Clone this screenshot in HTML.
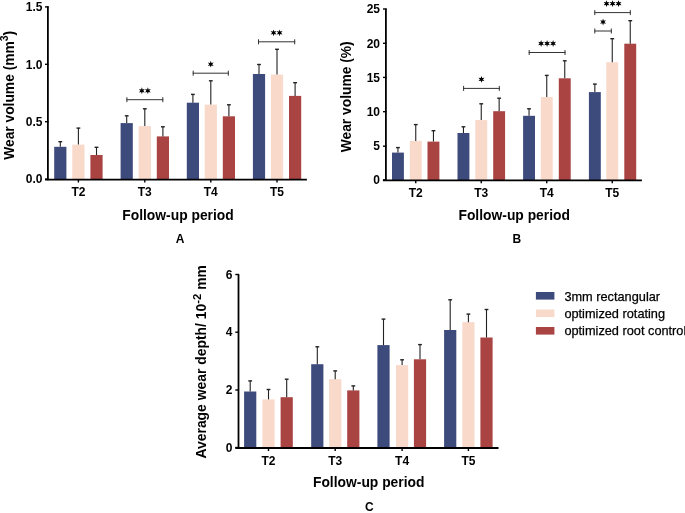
<!DOCTYPE html>
<html><head><meta charset="utf-8"><style>
html,body{margin:0;padding:0;background:#fff;}
body{width:685px;height:513px;overflow:hidden;}
svg{display:block;font-family:"Liberation Sans",sans-serif;will-change:transform;}
</style></head><body>
<svg width="685" height="513" viewBox="0 0 685 513">
<rect width="685" height="513" fill="#fff"/>
<rect x="54.2" y="146.8" width="12.2" height="32.3" fill="#3d4a7c"/>
<line x1="60.3" y1="141.7" x2="60.3" y2="146.8" stroke="#222" stroke-width="1.1"/>
<line x1="58.4" y1="141.7" x2="62.2" y2="141.7" stroke="#222" stroke-width="1.4"/>
<rect x="72.3" y="144.6" width="12.2" height="34.5" fill="#f8d9ca"/>
<line x1="78.4" y1="128.1" x2="78.4" y2="144.6" stroke="#222" stroke-width="1.1"/>
<line x1="76.5" y1="128.1" x2="80.3" y2="128.1" stroke="#222" stroke-width="1.4"/>
<rect x="90.4" y="155.0" width="12.2" height="24.1" fill="#a94442"/>
<line x1="96.5" y1="147.3" x2="96.5" y2="155.0" stroke="#222" stroke-width="1.1"/>
<line x1="94.6" y1="147.3" x2="98.4" y2="147.3" stroke="#222" stroke-width="1.4"/>
<rect x="120.6" y="123.1" width="12.2" height="56.0" fill="#3d4a7c"/>
<line x1="126.7" y1="115.8" x2="126.7" y2="123.1" stroke="#222" stroke-width="1.1"/>
<line x1="124.8" y1="115.8" x2="128.6" y2="115.8" stroke="#222" stroke-width="1.4"/>
<rect x="138.7" y="126.1" width="12.2" height="53.0" fill="#f8d9ca"/>
<line x1="144.8" y1="108.8" x2="144.8" y2="126.1" stroke="#222" stroke-width="1.1"/>
<line x1="142.9" y1="108.8" x2="146.7" y2="108.8" stroke="#222" stroke-width="1.4"/>
<rect x="156.8" y="136.4" width="12.2" height="42.7" fill="#a94442"/>
<line x1="162.9" y1="126.8" x2="162.9" y2="136.4" stroke="#222" stroke-width="1.1"/>
<line x1="161.0" y1="126.8" x2="164.8" y2="126.8" stroke="#222" stroke-width="1.4"/>
<rect x="186.8" y="102.7" width="12.2" height="76.4" fill="#3d4a7c"/>
<line x1="192.9" y1="94.4" x2="192.9" y2="102.7" stroke="#222" stroke-width="1.1"/>
<line x1="191.0" y1="94.4" x2="194.8" y2="94.4" stroke="#222" stroke-width="1.4"/>
<rect x="204.7" y="104.6" width="12.2" height="74.5" fill="#f8d9ca"/>
<line x1="210.8" y1="80.8" x2="210.8" y2="104.6" stroke="#222" stroke-width="1.1"/>
<line x1="208.9" y1="80.8" x2="212.7" y2="80.8" stroke="#222" stroke-width="1.4"/>
<rect x="222.8" y="116.3" width="12.2" height="62.8" fill="#a94442"/>
<line x1="228.9" y1="104.8" x2="228.9" y2="116.3" stroke="#222" stroke-width="1.1"/>
<line x1="227.0" y1="104.8" x2="230.8" y2="104.8" stroke="#222" stroke-width="1.4"/>
<rect x="252.9" y="74.0" width="12.2" height="105.1" fill="#3d4a7c"/>
<line x1="259.0" y1="64.5" x2="259.0" y2="74.0" stroke="#222" stroke-width="1.1"/>
<line x1="257.1" y1="64.5" x2="260.9" y2="64.5" stroke="#222" stroke-width="1.4"/>
<rect x="270.9" y="74.6" width="12.2" height="104.5" fill="#f8d9ca"/>
<line x1="277.0" y1="49.3" x2="277.0" y2="74.6" stroke="#222" stroke-width="1.1"/>
<line x1="275.1" y1="49.3" x2="278.9" y2="49.3" stroke="#222" stroke-width="1.4"/>
<rect x="289.0" y="95.9" width="12.2" height="83.2" fill="#a94442"/>
<line x1="295.1" y1="82.7" x2="295.1" y2="95.9" stroke="#222" stroke-width="1.1"/>
<line x1="293.2" y1="82.7" x2="297.0" y2="82.7" stroke="#222" stroke-width="1.4"/>
<line x1="47.9" y1="6.2" x2="47.9" y2="180.3" stroke="#000" stroke-width="1.8"/>
<line x1="45.0" y1="179.6" x2="306.9" y2="179.6" stroke="#000" stroke-width="1.8"/>
<line x1="45.0" y1="6.9" x2="48.5" y2="6.9" stroke="#000" stroke-width="1.4"/>
<text x="42.5" y="11.1" font-size="12" font-weight="700" text-anchor="end" >1.5</text>
<line x1="45.0" y1="64.3" x2="48.5" y2="64.3" stroke="#000" stroke-width="1.4"/>
<text x="42.5" y="68.5" font-size="12" font-weight="700" text-anchor="end" >1.0</text>
<line x1="45.0" y1="121.7" x2="48.5" y2="121.7" stroke="#000" stroke-width="1.4"/>
<text x="42.5" y="125.9" font-size="12" font-weight="700" text-anchor="end" >0.5</text>
<line x1="45.0" y1="179.1" x2="48.5" y2="179.1" stroke="#000" stroke-width="1.4"/>
<text x="42.5" y="183.3" font-size="12" font-weight="700" text-anchor="end" >0.0</text>
<line x1="78.4" y1="179.6" x2="78.4" y2="182.5" stroke="#000" stroke-width="1.4"/>
<text x="78.4" y="196" font-size="12" font-weight="700" text-anchor="middle" >T2</text>
<line x1="144.8" y1="179.6" x2="144.8" y2="182.5" stroke="#000" stroke-width="1.4"/>
<text x="144.8" y="196" font-size="12" font-weight="700" text-anchor="middle" >T3</text>
<line x1="210.8" y1="179.6" x2="210.8" y2="182.5" stroke="#000" stroke-width="1.4"/>
<text x="210.8" y="196" font-size="12" font-weight="700" text-anchor="middle" >T4</text>
<line x1="277.0" y1="179.6" x2="277.0" y2="182.5" stroke="#000" stroke-width="1.4"/>
<text x="277.0" y="196" font-size="12" font-weight="700" text-anchor="middle" >T5</text>
<text x="178" y="220.3" font-size="13.85" font-weight="700" text-anchor="middle" >Follow-up period</text>
<text x="180" y="243.2" font-size="12" font-weight="700" text-anchor="middle" >A</text>
<text transform="translate(13.6,95.3) rotate(-90)" font-size="13.8" font-weight="700" text-anchor="middle">Wear volume (mm<tspan dy="-5.2" font-size="10.5">3</tspan><tspan dy="5.2">)</tspan></text>
<line x1="126.4" y1="99.7" x2="163.3" y2="99.7" stroke="#333" stroke-width="1"/>
<line x1="126.9" y1="97.2" x2="126.9" y2="102.2" stroke="#333" stroke-width="1"/>
<line x1="162.8" y1="97.2" x2="162.8" y2="102.2" stroke="#333" stroke-width="1"/>
<polygon points="141.85,87.30 142.60,89.40 144.79,89.00 143.35,90.70 144.79,92.40 142.60,92.00 141.85,94.10 141.10,92.00 138.91,92.40 140.35,90.70 138.91,89.00 141.10,89.40" fill="#000"/>
<polygon points="147.85,87.30 148.60,89.40 150.79,89.00 149.35,90.70 150.79,92.40 148.60,92.00 147.85,94.10 147.10,92.00 144.91,92.40 146.35,90.70 144.91,89.00 147.10,89.40" fill="#000"/>
<line x1="192.7" y1="73.2" x2="228.8" y2="73.2" stroke="#333" stroke-width="1"/>
<line x1="193.2" y1="70.7" x2="193.2" y2="75.7" stroke="#333" stroke-width="1"/>
<line x1="228.3" y1="70.7" x2="228.3" y2="75.7" stroke="#333" stroke-width="1"/>
<polygon points="210.75,60.80 211.50,62.90 213.69,62.50 212.25,64.20 213.69,65.90 211.50,65.50 210.75,67.60 210.00,65.50 207.81,65.90 209.25,64.20 207.81,62.50 210.00,62.90" fill="#000"/>
<line x1="258.0" y1="41.8" x2="295.2" y2="41.8" stroke="#333" stroke-width="1"/>
<line x1="258.5" y1="39.3" x2="258.5" y2="44.3" stroke="#333" stroke-width="1"/>
<line x1="294.7" y1="39.3" x2="294.7" y2="44.3" stroke="#333" stroke-width="1"/>
<polygon points="273.60,29.40 274.35,31.50 276.54,31.10 275.10,32.80 276.54,34.50 274.35,34.10 273.60,36.20 272.85,34.10 270.66,34.50 272.10,32.80 270.66,31.10 272.85,31.50" fill="#000"/>
<polygon points="279.60,29.40 280.35,31.50 282.54,31.10 281.10,32.80 282.54,34.50 280.35,34.10 279.60,36.20 278.85,34.10 276.66,34.50 278.10,32.80 276.66,31.10 278.85,31.50" fill="#000"/>
<rect x="392.0" y="152.6" width="11.9" height="27.7" fill="#3d4a7c"/>
<line x1="397.95" y1="147.6" x2="397.95" y2="152.6" stroke="#222" stroke-width="1.1"/>
<line x1="396.05" y1="147.6" x2="399.85" y2="147.6" stroke="#222" stroke-width="1.4"/>
<rect x="409.8" y="140.9" width="11.9" height="39.4" fill="#f8d9ca"/>
<line x1="415.75" y1="124.6" x2="415.75" y2="140.9" stroke="#222" stroke-width="1.1"/>
<line x1="413.85" y1="124.6" x2="417.65" y2="124.6" stroke="#222" stroke-width="1.4"/>
<rect x="427.5" y="141.6" width="11.9" height="38.7" fill="#a94442"/>
<line x1="433.45" y1="130.7" x2="433.45" y2="141.6" stroke="#222" stroke-width="1.1"/>
<line x1="431.55" y1="130.7" x2="435.35" y2="130.7" stroke="#222" stroke-width="1.4"/>
<rect x="457.5" y="133.0" width="11.9" height="47.3" fill="#3d4a7c"/>
<line x1="463.45" y1="126.8" x2="463.45" y2="133.0" stroke="#222" stroke-width="1.1"/>
<line x1="461.55" y1="126.8" x2="465.35" y2="126.8" stroke="#222" stroke-width="1.4"/>
<rect x="475.3" y="120.1" width="11.9" height="60.2" fill="#f8d9ca"/>
<line x1="481.25" y1="103.8" x2="481.25" y2="120.1" stroke="#222" stroke-width="1.1"/>
<line x1="479.35" y1="103.8" x2="483.15" y2="103.8" stroke="#222" stroke-width="1.4"/>
<rect x="493.2" y="111.2" width="11.9" height="69.1" fill="#a94442"/>
<line x1="499.15" y1="98.2" x2="499.15" y2="111.2" stroke="#222" stroke-width="1.1"/>
<line x1="497.25" y1="98.2" x2="501.05" y2="98.2" stroke="#222" stroke-width="1.4"/>
<rect x="523.1" y="115.8" width="11.9" height="64.5" fill="#3d4a7c"/>
<line x1="529.05" y1="108.8" x2="529.05" y2="115.8" stroke="#222" stroke-width="1.1"/>
<line x1="527.15" y1="108.8" x2="530.95" y2="108.8" stroke="#222" stroke-width="1.4"/>
<rect x="540.8" y="97.1" width="11.9" height="83.2" fill="#f8d9ca"/>
<line x1="546.75" y1="75.4" x2="546.75" y2="97.1" stroke="#222" stroke-width="1.1"/>
<line x1="544.85" y1="75.4" x2="548.65" y2="75.4" stroke="#222" stroke-width="1.4"/>
<rect x="558.8" y="78.3" width="11.9" height="102.0" fill="#a94442"/>
<line x1="564.75" y1="60.8" x2="564.75" y2="78.3" stroke="#222" stroke-width="1.1"/>
<line x1="562.85" y1="60.8" x2="566.65" y2="60.8" stroke="#222" stroke-width="1.4"/>
<rect x="588.9" y="92.1" width="11.9" height="88.2" fill="#3d4a7c"/>
<line x1="594.85" y1="84.1" x2="594.85" y2="92.1" stroke="#222" stroke-width="1.1"/>
<line x1="592.95" y1="84.1" x2="596.75" y2="84.1" stroke="#222" stroke-width="1.4"/>
<rect x="606.3" y="62.3" width="11.9" height="118.0" fill="#f8d9ca"/>
<line x1="612.25" y1="38.7" x2="612.25" y2="62.3" stroke="#222" stroke-width="1.1"/>
<line x1="610.35" y1="38.7" x2="614.15" y2="38.7" stroke="#222" stroke-width="1.4"/>
<rect x="624.3" y="43.7" width="11.9" height="136.6" fill="#a94442"/>
<line x1="630.25" y1="20.7" x2="630.25" y2="43.7" stroke="#222" stroke-width="1.1"/>
<line x1="628.35" y1="20.7" x2="632.15" y2="20.7" stroke="#222" stroke-width="1.4"/>
<line x1="385.9" y1="8.4" x2="385.9" y2="181.1" stroke="#000" stroke-width="1.8"/>
<line x1="382.9" y1="180.3" x2="641.9" y2="180.3" stroke="#000" stroke-width="1.8"/>
<line x1="383.0" y1="9.0" x2="386.5" y2="9.0" stroke="#000" stroke-width="1.4"/>
<text x="380" y="13.2" font-size="12" font-weight="700" text-anchor="end" >25</text>
<line x1="383.0" y1="43.3" x2="386.5" y2="43.3" stroke="#000" stroke-width="1.4"/>
<text x="380" y="47.5" font-size="12" font-weight="700" text-anchor="end" >20</text>
<line x1="383.0" y1="77.4" x2="386.5" y2="77.4" stroke="#000" stroke-width="1.4"/>
<text x="380" y="81.6" font-size="12" font-weight="700" text-anchor="end" >15</text>
<line x1="383.0" y1="111.7" x2="386.5" y2="111.7" stroke="#000" stroke-width="1.4"/>
<text x="380" y="115.9" font-size="12" font-weight="700" text-anchor="end" >10</text>
<line x1="383.0" y1="146.2" x2="386.5" y2="146.2" stroke="#000" stroke-width="1.4"/>
<text x="380" y="150.4" font-size="12" font-weight="700" text-anchor="end" >5</text>
<line x1="383.0" y1="179.9" x2="386.5" y2="179.9" stroke="#000" stroke-width="1.4"/>
<text x="380" y="184.1" font-size="12" font-weight="700" text-anchor="end" >0</text>
<line x1="415.75" y1="180.3" x2="415.75" y2="183.2" stroke="#000" stroke-width="1.4"/>
<text x="415.75" y="196.8" font-size="12" font-weight="700" text-anchor="middle" >T2</text>
<line x1="481.25" y1="180.3" x2="481.25" y2="183.2" stroke="#000" stroke-width="1.4"/>
<text x="481.25" y="196.8" font-size="12" font-weight="700" text-anchor="middle" >T3</text>
<line x1="546.75" y1="180.3" x2="546.75" y2="183.2" stroke="#000" stroke-width="1.4"/>
<text x="546.75" y="196.8" font-size="12" font-weight="700" text-anchor="middle" >T4</text>
<line x1="612.25" y1="180.3" x2="612.25" y2="183.2" stroke="#000" stroke-width="1.4"/>
<text x="612.25" y="196.8" font-size="12" font-weight="700" text-anchor="middle" >T5</text>
<text x="514.2" y="220.3" font-size="13.85" font-weight="700" text-anchor="middle" >Follow-up period</text>
<text x="516.8" y="242.6" font-size="12" font-weight="700" text-anchor="middle" >B</text>
<text transform="translate(350.6,96.8) rotate(-90)" font-size="13.8" font-weight="700" text-anchor="middle">Wear volume (%)</text>
<line x1="463.1" y1="88.4" x2="499.8" y2="88.4" stroke="#333" stroke-width="1"/>
<line x1="463.6" y1="85.9" x2="463.6" y2="90.9" stroke="#333" stroke-width="1"/>
<line x1="499.3" y1="85.9" x2="499.3" y2="90.9" stroke="#333" stroke-width="1"/>
<polygon points="481.45,76.00 482.20,78.10 484.39,77.70 482.95,79.40 484.39,81.10 482.20,80.70 481.45,82.80 480.70,80.70 478.51,81.10 479.95,79.40 478.51,77.70 480.70,78.10" fill="#000"/>
<line x1="528.7" y1="52.5" x2="565.5" y2="52.5" stroke="#333" stroke-width="1"/>
<line x1="529.2" y1="50.0" x2="529.2" y2="55.0" stroke="#333" stroke-width="1"/>
<line x1="565.0" y1="50.0" x2="565.0" y2="55.0" stroke="#333" stroke-width="1"/>
<polygon points="541.10,40.10 541.85,42.20 544.04,41.80 542.60,43.50 544.04,45.20 541.85,44.80 541.10,46.90 540.35,44.80 538.16,45.20 539.60,43.50 538.16,41.80 540.35,42.20" fill="#000"/>
<polygon points="547.10,40.10 547.85,42.20 550.04,41.80 548.60,43.50 550.04,45.20 547.85,44.80 547.10,46.90 546.35,44.80 544.16,45.20 545.60,43.50 544.16,41.80 546.35,42.20" fill="#000"/>
<polygon points="553.10,40.10 553.85,42.20 556.04,41.80 554.60,43.50 556.04,45.20 553.85,44.80 553.10,46.90 552.35,44.80 550.16,45.20 551.60,43.50 550.16,41.80 552.35,42.20" fill="#000"/>
<line x1="594.3" y1="12.6" x2="630.8" y2="12.6" stroke="#333" stroke-width="1"/>
<line x1="594.8" y1="10.1" x2="594.8" y2="15.1" stroke="#333" stroke-width="1"/>
<line x1="630.3" y1="10.1" x2="630.3" y2="15.1" stroke="#333" stroke-width="1"/>
<polygon points="606.55,0.20 607.30,2.30 609.49,1.90 608.05,3.60 609.49,5.30 607.30,4.90 606.55,7.00 605.80,4.90 603.61,5.30 605.05,3.60 603.61,1.90 605.80,2.30" fill="#000"/>
<polygon points="612.55,0.20 613.30,2.30 615.49,1.90 614.05,3.60 615.49,5.30 613.30,4.90 612.55,7.00 611.80,4.90 609.61,5.30 611.05,3.60 609.61,1.90 611.80,2.30" fill="#000"/>
<polygon points="618.55,0.20 619.30,2.30 621.49,1.90 620.05,3.60 621.49,5.30 619.30,4.90 618.55,7.00 617.80,4.90 615.61,5.30 617.05,3.60 615.61,1.90 617.80,2.30" fill="#000"/>
<line x1="594.3" y1="31.0" x2="611.8" y2="31.0" stroke="#333" stroke-width="1"/>
<line x1="594.8" y1="28.5" x2="594.8" y2="33.5" stroke="#333" stroke-width="1"/>
<line x1="611.3" y1="28.5" x2="611.3" y2="33.5" stroke="#333" stroke-width="1"/>
<polygon points="603.05,18.60 603.80,20.70 605.99,20.30 604.55,22.00 605.99,23.70 603.80,23.30 603.05,25.40 602.30,23.30 600.11,23.70 601.55,22.00 600.11,20.30 602.30,20.70" fill="#000"/>
<rect x="244.1" y="391.5" width="12.2" height="56.1" fill="#3d4a7c"/>
<line x1="250.2" y1="380.9" x2="250.2" y2="391.5" stroke="#222" stroke-width="1.1"/>
<line x1="248.3" y1="380.9" x2="252.1" y2="380.9" stroke="#222" stroke-width="1.4"/>
<rect x="262.4" y="399.4" width="12.2" height="48.2" fill="#f8d9ca"/>
<line x1="268.5" y1="389.5" x2="268.5" y2="399.4" stroke="#222" stroke-width="1.1"/>
<line x1="266.6" y1="389.5" x2="270.4" y2="389.5" stroke="#222" stroke-width="1.4"/>
<rect x="280.6" y="397.2" width="12.2" height="50.4" fill="#a94442"/>
<line x1="286.7" y1="379.2" x2="286.7" y2="397.2" stroke="#222" stroke-width="1.1"/>
<line x1="284.8" y1="379.2" x2="288.6" y2="379.2" stroke="#222" stroke-width="1.4"/>
<rect x="311.2" y="364.2" width="12.2" height="83.4" fill="#3d4a7c"/>
<line x1="317.3" y1="346.8" x2="317.3" y2="364.2" stroke="#222" stroke-width="1.1"/>
<line x1="315.4" y1="346.8" x2="319.2" y2="346.8" stroke="#222" stroke-width="1.4"/>
<rect x="329.1" y="379.2" width="12.2" height="68.4" fill="#f8d9ca"/>
<line x1="335.2" y1="370.9" x2="335.2" y2="379.2" stroke="#222" stroke-width="1.1"/>
<line x1="333.3" y1="370.9" x2="337.1" y2="370.9" stroke="#222" stroke-width="1.4"/>
<rect x="347.2" y="390.4" width="12.2" height="57.2" fill="#a94442"/>
<line x1="353.3" y1="385.9" x2="353.3" y2="390.4" stroke="#222" stroke-width="1.1"/>
<line x1="351.4" y1="385.9" x2="355.2" y2="385.9" stroke="#222" stroke-width="1.4"/>
<rect x="377.4" y="345.1" width="12.2" height="102.5" fill="#3d4a7c"/>
<line x1="383.5" y1="319.1" x2="383.5" y2="345.1" stroke="#222" stroke-width="1.1"/>
<line x1="381.6" y1="319.1" x2="385.4" y2="319.1" stroke="#222" stroke-width="1.4"/>
<rect x="396.0" y="365.1" width="12.2" height="82.5" fill="#f8d9ca"/>
<line x1="402.1" y1="359.8" x2="402.1" y2="365.1" stroke="#222" stroke-width="1.1"/>
<line x1="400.2" y1="359.8" x2="404.0" y2="359.8" stroke="#222" stroke-width="1.4"/>
<rect x="413.9" y="359.3" width="12.2" height="88.3" fill="#a94442"/>
<line x1="420.0" y1="344.6" x2="420.0" y2="359.3" stroke="#222" stroke-width="1.1"/>
<line x1="418.1" y1="344.6" x2="421.9" y2="344.6" stroke="#222" stroke-width="1.4"/>
<rect x="444.1" y="330.0" width="12.2" height="117.6" fill="#3d4a7c"/>
<line x1="450.2" y1="299.8" x2="450.2" y2="330.0" stroke="#222" stroke-width="1.1"/>
<line x1="448.3" y1="299.8" x2="452.1" y2="299.8" stroke="#222" stroke-width="1.4"/>
<rect x="462.3" y="322.2" width="12.2" height="125.4" fill="#f8d9ca"/>
<line x1="468.4" y1="314.1" x2="468.4" y2="322.2" stroke="#222" stroke-width="1.1"/>
<line x1="466.5" y1="314.1" x2="470.3" y2="314.1" stroke="#222" stroke-width="1.4"/>
<rect x="480.4" y="337.5" width="12.2" height="110.1" fill="#a94442"/>
<line x1="486.5" y1="309.5" x2="486.5" y2="337.5" stroke="#222" stroke-width="1.1"/>
<line x1="484.6" y1="309.5" x2="488.4" y2="309.5" stroke="#222" stroke-width="1.4"/>
<line x1="238.5" y1="274.2" x2="238.5" y2="448.8" stroke="#000" stroke-width="1.8"/>
<line x1="235.3" y1="448.0" x2="498.5" y2="448.0" stroke="#000" stroke-width="1.8"/>
<line x1="235.3" y1="274.5" x2="239" y2="274.5" stroke="#000" stroke-width="1.4"/>
<text x="232.5" y="278.7" font-size="12" font-weight="700" text-anchor="end" >6</text>
<line x1="235.3" y1="332.2" x2="239" y2="332.2" stroke="#000" stroke-width="1.4"/>
<text x="232.5" y="336.4" font-size="12" font-weight="700" text-anchor="end" >4</text>
<line x1="235.3" y1="390.0" x2="239" y2="390.0" stroke="#000" stroke-width="1.4"/>
<text x="232.5" y="394.2" font-size="12" font-weight="700" text-anchor="end" >2</text>
<line x1="235.3" y1="447.5" x2="239" y2="447.5" stroke="#000" stroke-width="1.4"/>
<text x="232.5" y="451.7" font-size="12" font-weight="700" text-anchor="end" >0</text>
<line x1="268.5" y1="448.0" x2="268.5" y2="451.0" stroke="#000" stroke-width="1.4"/>
<text x="268.5" y="464.9" font-size="12" font-weight="700" text-anchor="middle" >T2</text>
<line x1="335.2" y1="448.0" x2="335.2" y2="451.0" stroke="#000" stroke-width="1.4"/>
<text x="335.2" y="464.9" font-size="12" font-weight="700" text-anchor="middle" >T3</text>
<line x1="402.1" y1="448.0" x2="402.1" y2="451.0" stroke="#000" stroke-width="1.4"/>
<text x="402.1" y="464.9" font-size="12" font-weight="700" text-anchor="middle" >T4</text>
<line x1="468.4" y1="448.0" x2="468.4" y2="451.0" stroke="#000" stroke-width="1.4"/>
<text x="468.4" y="464.9" font-size="12" font-weight="700" text-anchor="middle" >T5</text>
<text x="368.7" y="487.4" font-size="13.85" font-weight="700" text-anchor="middle" >Follow-up period</text>
<text x="369.3" y="511.2" font-size="12" font-weight="700" text-anchor="middle" >C</text>
<text transform="translate(205.8,361.8) rotate(-90)" font-size="13.9" font-weight="700" text-anchor="middle">Average wear depth/ 10<tspan dy="-4.4" font-size="11.4">-2</tspan><tspan dy="4.4"> mm</tspan></text>
<rect x="535.9" y="292.0" width="18.5" height="7.6" fill="#3d4a7c"/>
<text x="564.4" y="300.75" font-size="12.75" font-weight="400" text-anchor="start" stroke="#000" stroke-width="0.25">3mm rectangular</text>
<rect x="535.9" y="309.5" width="18.5" height="7.6" fill="#f8d9ca"/>
<text x="564.4" y="317.95" font-size="12.75" font-weight="400" text-anchor="start" stroke="#000" stroke-width="0.25">optimized rotating</text>
<rect x="535.9" y="327.0" width="18.5" height="7.6" fill="#a94442"/>
<text x="564.4" y="335.15" font-size="12.75" font-weight="400" text-anchor="start" stroke="#000" stroke-width="0.25">optimized root control</text>
</svg>
</body></html>
